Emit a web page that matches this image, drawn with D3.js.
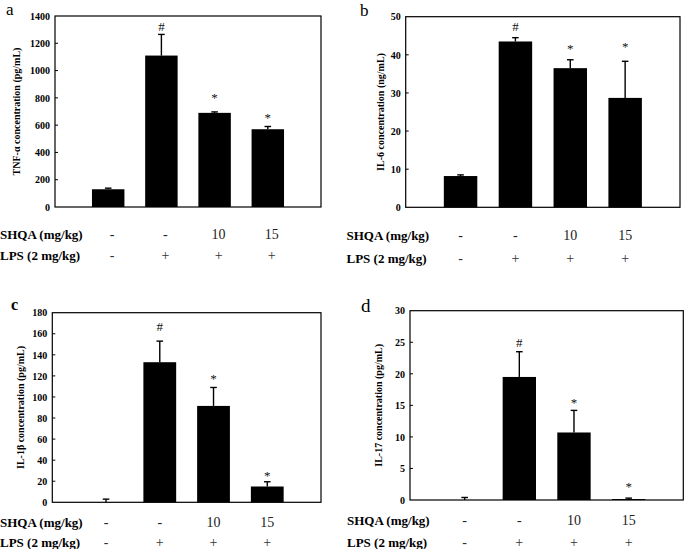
<!DOCTYPE html>
<html>
<head>
<meta charset="utf-8">
<script src="https://cdn.jsdelivr.net/npm/d3@7"></script>
<style>
html,body{margin:0;padding:0;background:#fff;}
svg{display:block;}
</style>
</head>
<body>
<svg id="chart" width="685" height="549"></svg>
<script>
// ---- data ----
const groups = ["Control", "LPS", "LPS+SHQA10", "LPS+SHQA15"];
const shqaLabels = ["-", "-", "10", "15"];
const lpsLabels = ["-", "+", "+", "+"];
const sigMarks = ["", "#", "*", "*"];

const tnfMean = [130, 1110, 690, 570];
const tnfErr = [8, 155, 7, 20];
const tnfMarkAt = [null, 1321, 814, 674];
const tnfTicks = [0, 200, 400, 600, 800, 1000, 1200, 1400];

const il6Mean = [8.2, 43.5, 36.5, 28.7];
const il6Err = [0.3, 1.0, 2.2, 9.6];
const il6MarkAt = [null, 47.4, 42.1, 42.8];
const il6Ticks = [0, 10, 20, 30, 40, 50];

const il1bMean = [0, 133, 91.5, 15];
const il1bErr = [3, 20, 17.5, 4.5];
const il1bMarkAt = [null, 166.7, 119.9, 27.5];
const il1bTicks = [0, 20, 40, 60, 80, 100, 120, 140, 160, 180];

const il17Mean = [0, 19.5, 10.7, 0.15];
const il17Err = [0.4, 4.0, 3.5, 0.15];
const il17MarkAt = [null, 24.9, 15.8, 2.4];
const il17Ticks = [0, 5, 10, 15, 20, 25, 30];

const svg = d3.select("#chart");
const SERIF = "'Liberation Serif','Times New Roman',serif";

function panel(cfg) {
  const g = svg.append("g");
  const x = d3.scaleLinear().domain([0, groups.length + 1]).range([cfg.left, cfg.right]);
  const y = d3.scaleLinear().domain([0, d3.max(cfg.ticks)]).range([cfg.bottom, cfg.top]);
  const step = x(1) - x(0);
  const bw = step * 0.61;

  // bars
  g.selectAll("rect.bar").data(cfg.mean).join("rect")
    .attr("x", (d, i) => x(i + 1) - bw / 2)
    .attr("y", d => y(d))
    .attr("width", bw)
    .attr("height", d => Math.max(0, y(0) - y(d)))
    .attr("fill", "#000");

  // error bars (upper only)
  const eg = g.selectAll("g.err").data(cfg.mean).join("g");
  eg.append("line")
    .attr("x1", (d, i) => x(i + 1)).attr("x2", (d, i) => x(i + 1))
    .attr("y1", d => y(d)).attr("y2", (d, i) => y(d + cfg.err[i]))
    .attr("stroke", "#000").attr("stroke-width", 1.4);
  eg.append("line")
    .attr("x1", (d, i) => x(i + 1) - 3.3).attr("x2", (d, i) => x(i + 1) + 3.3)
    .attr("y1", (d, i) => y(d + cfg.err[i])).attr("y2", (d, i) => y(d + cfg.err[i]))
    .attr("stroke", "#000").attr("stroke-width", 1.4);

  // frame
  g.append("rect")
    .attr("x", cfg.left).attr("y", cfg.top)
    .attr("width", cfg.right - cfg.left).attr("height", cfg.bottom - cfg.top)
    .attr("fill", "none").attr("stroke", "#000").attr("stroke-width", 1.2);

  // y axis with inward ticks
  const axis = d3.axisLeft(y).tickValues(cfg.ticks).tickSize(0).tickPadding(5).tickFormat(d3.format("d"));
  const ag = g.append("g").attr("transform", `translate(${cfg.left},0)`).call(axis);
  ag.select(".domain").remove();
  ag.selectAll("text")
    .attr("font-family", SERIF).attr("font-weight", "bold").attr("font-size", 10).attr("fill", "#000");
  g.selectAll("line.tk").data(cfg.ticks.slice(1, -1)).join("line")
    .attr("x1", cfg.left).attr("x2", cfg.left + 3)
    .attr("y1", d => y(d)).attr("y2", d => y(d))
    .attr("stroke", "#000").attr("stroke-width", 1);

  // y label
  g.append("text")
    .attr("transform", `translate(${cfg.ylabX},${(cfg.top + cfg.bottom) / 2}) rotate(-90)`)
    .attr("text-anchor", "middle")
    .attr("dominant-baseline", "central")
    .attr("font-family", SERIF).attr("font-weight", "bold").attr("font-size", 10)
    .text(cfg.ylabel);

  // significance marks
  sigMarks.forEach((m, i) => {
    if (!m || cfg.markAt[i] == null) return;
    g.append("text")
      .attr("x", x(i + 1))
      .attr("y", y(cfg.markAt[i]) + (m === "*" ? 6.5 : 4.4))
      .attr("text-anchor", "middle")
      .attr("font-family", SERIF).attr("font-size", 13).attr("fill", "#111")
      .text(m);
  });

  // treatment rows
  g.append("text").attr("x", cfg.rowX).attr("y", cfg.row1)
    .attr("font-family", SERIF).attr("font-weight", "bold").attr("font-size", 13)
    .text("SHQA (mg/kg)");
  g.append("text").attr("x", cfg.rowX).attr("y", cfg.row2)
    .attr("font-family", SERIF).attr("font-weight", "bold").attr("font-size", 13)
    .text("LPS (2 mg/kg)");
  g.selectAll("text.shqa").data(shqaLabels).join("text")
    .attr("x", (d, i) => x(i + 1) + cfg.colShift)
    .attr("y", cfg.row1)
    .attr("text-anchor", "middle")
    .attr("font-family", SERIF).attr("font-size", 14).attr("fill", "#222")
    .text(d => d);
  g.selectAll("text.lps").data(lpsLabels).join("text")
    .attr("x", (d, i) => x(i + 1) + cfg.colShift)
    .attr("y", cfg.row2)
    .attr("text-anchor", "middle")
    .attr("font-family", SERIF).attr("font-size", 14).attr("fill", "#333")
    .text(d => d);

  // panel letter
  g.append("text").attr("x", cfg.letterX).attr("y", cfg.letterY)
    .attr("font-family", SERIF).attr("font-size", cfg.letterSize)
    .attr("font-weight", cfg.letterBold ? "bold" : "normal")
    .text(cfg.letter);
}

panel({ mean: tnfMean, err: tnfErr, markAt: tnfMarkAt, ticks: tnfTicks,
  left: 55, right: 321, top: 16, bottom: 207,
  ylabel: "TNF-\u03b1 concentration (pg/mL)", ylabX: 16.5,
  rowX: 0, row1: 238.5, row2: 260, colShift: 4,
  letter: "a", letterX: 6, letterY: 15, letterSize: 17 });

panel({ mean: il6Mean, err: il6Err, markAt: il6MarkAt, ticks: il6Ticks,
  left: 405.7, right: 680, top: 16.7, bottom: 207.3,
  ylabel: "IL-6 concentration (ng/mL)", ylabX: 380,
  rowX: 346.5, row1: 240, row2: 263, colShift: 0,
  letter: "b", letterX: 360, letterY: 16, letterSize: 17 });

panel({ mean: il1bMean, err: il1bErr, markAt: il1bMarkAt, ticks: il1bTicks,
  left: 52.3, right: 321, top: 312.7, bottom: 502.3,
  ylabel: "IL-1\u03b2 concentration (pg/mL)", ylabX: 20,
  rowX: 0, row1: 527, row2: 547, colShift: 0,
  letter: "c", letterX: 11, letterY: 309.5, letterSize: 16, letterBold: true });

panel({ mean: il17Mean, err: il17Err, markAt: il17MarkAt, ticks: il17Ticks,
  left: 410, right: 683.3, top: 310.7, bottom: 500,
  ylabel: "IL-17 concentration (pg/mL)", ylabX: 378,
  rowX: 347, row1: 525, row2: 546.5, colShift: 0,
  letter: "d", letterX: 361, letterY: 311.5, letterSize: 19 });
</script>
</body>
</html>
